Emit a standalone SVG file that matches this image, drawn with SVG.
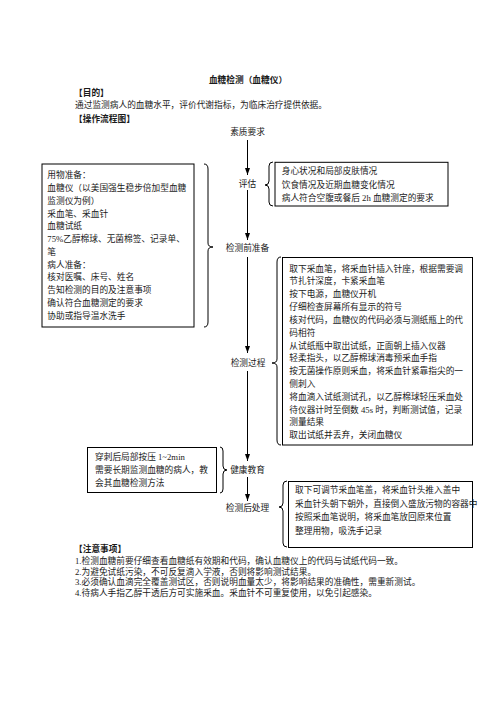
<svg xmlns="http://www.w3.org/2000/svg" width="496" height="702" viewBox="0 0 496 702">
<style>
text{font-family:"Liberation Serif","Noto Sans CJK SC",serif;font-size:8.7px;fill:#1a1a1a}
.b{font-weight:bold}
.c{text-anchor:middle}
.box{fill:none;stroke:#000;stroke-width:1}
.br{fill:none;stroke:#000;stroke-width:1}
.ln{stroke:#000;stroke-width:1;fill:none}
</style>
<defs>
<marker id="ah" viewBox="0 0 7 5" refX="7" refY="2.5" markerWidth="7" markerHeight="5" markerUnits="userSpaceOnUse" orient="auto">
<path d="M0,0 L7,2.5 L0,5 z" fill="#000"/>
</marker>
</defs>
<rect width="496" height="702" fill="#fff"/>
<g id="header">
<text class="b c" x="248" y="82.5">血糖检测（血糖仪）</text>
<text class="b" x="74" y="95.6">【目的】</text>
<text x="75" y="107.6">通过监测病人的血糖水平，评价代谢指标，为临床治疗提供依据。</text>
<text class="b" x="74" y="121.6">【操作流程图】</text>
</g>
<g id="connectors">
<line class="ln" x1="247.5" y1="140" x2="247.5" y2="175" marker-end="url(#ah)"/>
<line class="ln" x1="247.5" y1="190" x2="247.5" y2="240" marker-end="url(#ah)"/>
<line class="ln" x1="247.5" y1="257" x2="247.5" y2="353" marker-end="url(#ah)"/>
<line class="ln" x1="247.5" y1="371" x2="247.5" y2="461" marker-end="url(#ah)"/>
<line class="ln" x1="247.5" y1="477" x2="247.5" y2="501" marker-end="url(#ah)"/>
<path class="br" d="M204,164 Q208,164 208,169 L208,243 Q208,247 213,247 Q208,247 208,251 L208,322 Q208,327 204,327"/>
<path class="br" d="M273,162 Q269,162 269,166 L269,181 Q269,185 265,185 Q269,185 269,189 L269,202 Q269,206 273,206"/>
<path class="br" d="M281,257 Q277,257 277,262 L277,359 Q277,363 272,363 Q277,363 277,367 L277,440 Q277,445 281,445"/>
<path class="br" d="M220,447 Q223,447 223,451 L223,466 Q223,470 227,470 Q223,470 223,474 L223,489 Q223,493 220,493"/>
<path class="br" d="M287,481 Q283,481 283,485 L283,503 Q283,507 279,507 Q283,507 283,511 L283,543 Q283,547 287,547"/>
</g>
<g id="step-suzhi"><text class="c" x="247.5" y="135">素质要求</text></g>
<g id="step-pinggu"><text class="c" x="247.5" y="186.6">评估</text></g>
<g id="step-zhunbei"><text class="c" x="247.5" y="250.8">检测前准备</text></g>
<g id="step-guocheng"><text class="c" x="248" y="366">检测过程</text></g>
<g id="step-jiaoyu"><text class="c" x="247.5" y="472.6">健康教育</text></g>
<g id="step-houchuli"><text class="c" x="247.5" y="510.6">检测后处理</text></g>
<g id="box-prep">
<rect class="box" x="42" y="164" width="152" height="163"/>
<text x="47.3" y="178.3">用物准备：</text>
<text x="47.3" y="191.05">血糖仪（以美国强生稳步倍加型血糖</text>
<text x="47.3" y="203.8">监测仪为例）</text>
<text x="47.3" y="216.55">采血笔、采血针</text>
<text x="47.3" y="229.3">血糖试纸</text>
<text x="47.3" y="242.05">75%乙醇棉球、无菌棉签、记录单、</text>
<text x="47.3" y="254.8">笔</text>
<text x="47.3" y="267.55">病人准备：</text>
<text x="47.3" y="280.3">核对医嘱、床号、姓名</text>
<text x="47.3" y="293.05">告知检测的目的及注意事项</text>
<text x="47.3" y="305.8">确认符合血糖测定的要求</text>
<text x="47.3" y="318.55">协助或指导温水洗手</text>
</g>
<g id="box-assess">
<rect class="box" x="275" y="162.3" width="173" height="43.7"/>
<text x="281.7" y="174.3">身心状况和局部皮肤情况</text>
<text x="281.7" y="187.6">饮食情况及近期血糖变化情况</text>
<text x="281.7" y="200.9">病人符合空腹或餐后 2h 血糖测定的要求</text>
</g>
<g id="box-process">
<rect class="box" x="282.5" y="257.5" width="190" height="187.5"/>
<text x="289.3" y="271.6">取下采血笔，将采血针插入针座，根据需要调</text>
<text x="289.3" y="284.42">节扎针深度，卡紧采血笔</text>
<text x="289.3" y="297.24">按下电源，血糖仪开机</text>
<text x="289.3" y="310.06">仔细检查屏幕所有显示的符号</text>
<text x="289.3" y="322.88">核对代码，血糖仪的代码必须与测纸瓶上的代</text>
<text x="289.3" y="335.7">码相符</text>
<text x="289.3" y="348.52">从试纸瓶中取出试纸，正面朝上插入仪器</text>
<text x="289.3" y="361.34">轻柔指头，以乙醇棉球消毒预采血手指</text>
<text x="289.3" y="374.16">按无菌操作原则采血，将采血针紧靠指尖的一</text>
<text x="289.3" y="386.98">侧刺入</text>
<text x="289.3" y="399.8">将血滴入试纸测试孔，以乙醇棉球轻压采血处</text>
<text x="289.3" y="412.62">待仪器计时至倒数 45s 时，判断测试值，记录</text>
<text x="289.3" y="425.44">测量结果</text>
<text x="289.3" y="438.26">取出试纸并丢弃，关闭血糖仪</text>
</g>
<g id="box-edu">
<rect class="box" x="87.5" y="447.5" width="129" height="45"/>
<text x="95" y="460.3">穿刺后局部按压 1~2min</text>
<text x="95" y="473.1">需要长期监测血糖的病人，教</text>
<text x="95" y="485.9">会其血糖检测方法</text>
</g>
<g id="box-after">
<rect class="box" x="288.5" y="481.5" width="184" height="66"/>
<text x="295" y="493.3">取下可调节采血笔盖，将采血针头推入盖中</text>
<text x="295" y="506.7">采血针头朝下朝外，直接倒入盛放污物的容器中</text>
<text x="295" y="520.1">按照采血笔说明，将采血笔放回原来位置</text>
<text x="295" y="533.5">整理用物，吸洗手记录</text>
</g>
<g id="notes">
<text class="b" x="74" y="552.3">【注意事项】</text>
<text x="75" y="563.8">1.检测血糖前要仔细查看血糖纸有效期和代码，确认血糖仪上的代码与试纸代码一致。</text>
<text x="75" y="574.6">2.为避免试纸污染，不可反复滴入学液，否则将影响测试结果。</text>
<text x="75" y="585.4">3.必须确认血滴完全覆盖测试区，否则说明血量太少，将影响结果的准确性，需重新测试。</text>
<text x="75" y="596.2">4.待病人手指乙醇干透后方可实施采血。采血针不可重复使用，以免引起感染。</text>
</g>
</svg>
